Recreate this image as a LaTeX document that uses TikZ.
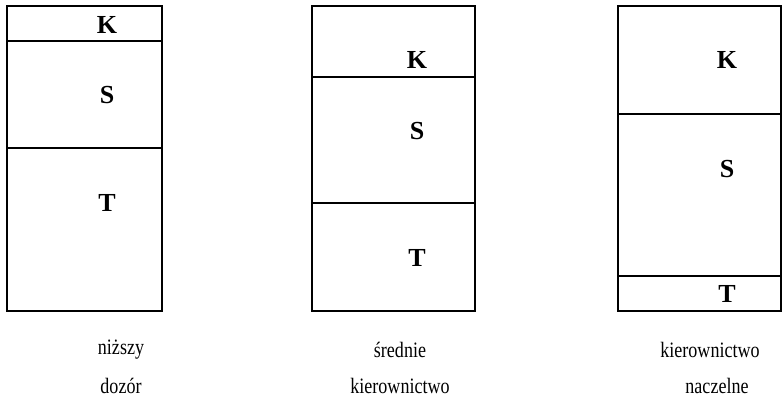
\documentclass[tikz,border=0pt]{standalone}
\usepackage{fontspec}
\setmainfont{Liberation Serif}
\newfontfamily\capfont[FakeStretch=0.82]{Liberation Serif}
\begin{document}
\begin{tikzpicture}[x=1pt,y=-1pt,
  frame/.style={draw=black,line width=1.5pt},
  divider/.style={draw=black,line width=1.3pt},
  letter/.style={font=\fontsize{26}{28}\selectfont\bfseries,inner sep=0pt},
  caption/.style={font=\capfont\fontsize{22}{24}\selectfont,inner sep=0pt,anchor=center}]
\useasboundingbox (0,0) rectangle (782,412);
% box 1
\draw[frame] (7,6) rectangle (162,311);
\draw[divider] (7,41) -- (162,41);
\draw[divider] (7,148) -- (162,148);
\node[letter] (k1) at (107,25) {K};
\node[letter] (s1) at (107,95) {S};
\node[letter] (t1) at (107,203) {T};
% box 2
\draw[frame] (312,6) rectangle (475,311);
\draw[divider] (312,77) -- (475,77);
\draw[divider] (312,203) -- (475,203);
\node[letter] (k2) at (417,60) {K};
\node[letter] (s2) at (417,131) {S};
\node[letter] (t2) at (417,258) {T};
% box 3
\draw[frame] (618,6) rectangle (781,311);
\draw[divider] (618,114) -- (781,114);
\draw[divider] (618,276) -- (781,276);
\node[letter] (k3) at (727,60) {K};
\node[letter] (s3) at (727,169) {S};
\node[letter] (t3) at (727,294) {T};
% captions
\node[caption] (c1a) at (121,350) {niższy};
\node[caption] (c1b) at (121,386) {dozór};
\node[caption] (c2a) at (400,350) {średnie};
\node[caption] (c2b) at (400,386) {kierownictwo};
\node[caption] (c3a) at (710,350) {kierownictwo};
\node[caption] (c3b) at (717,386) {naczelne};
\end{tikzpicture}
\end{document}
